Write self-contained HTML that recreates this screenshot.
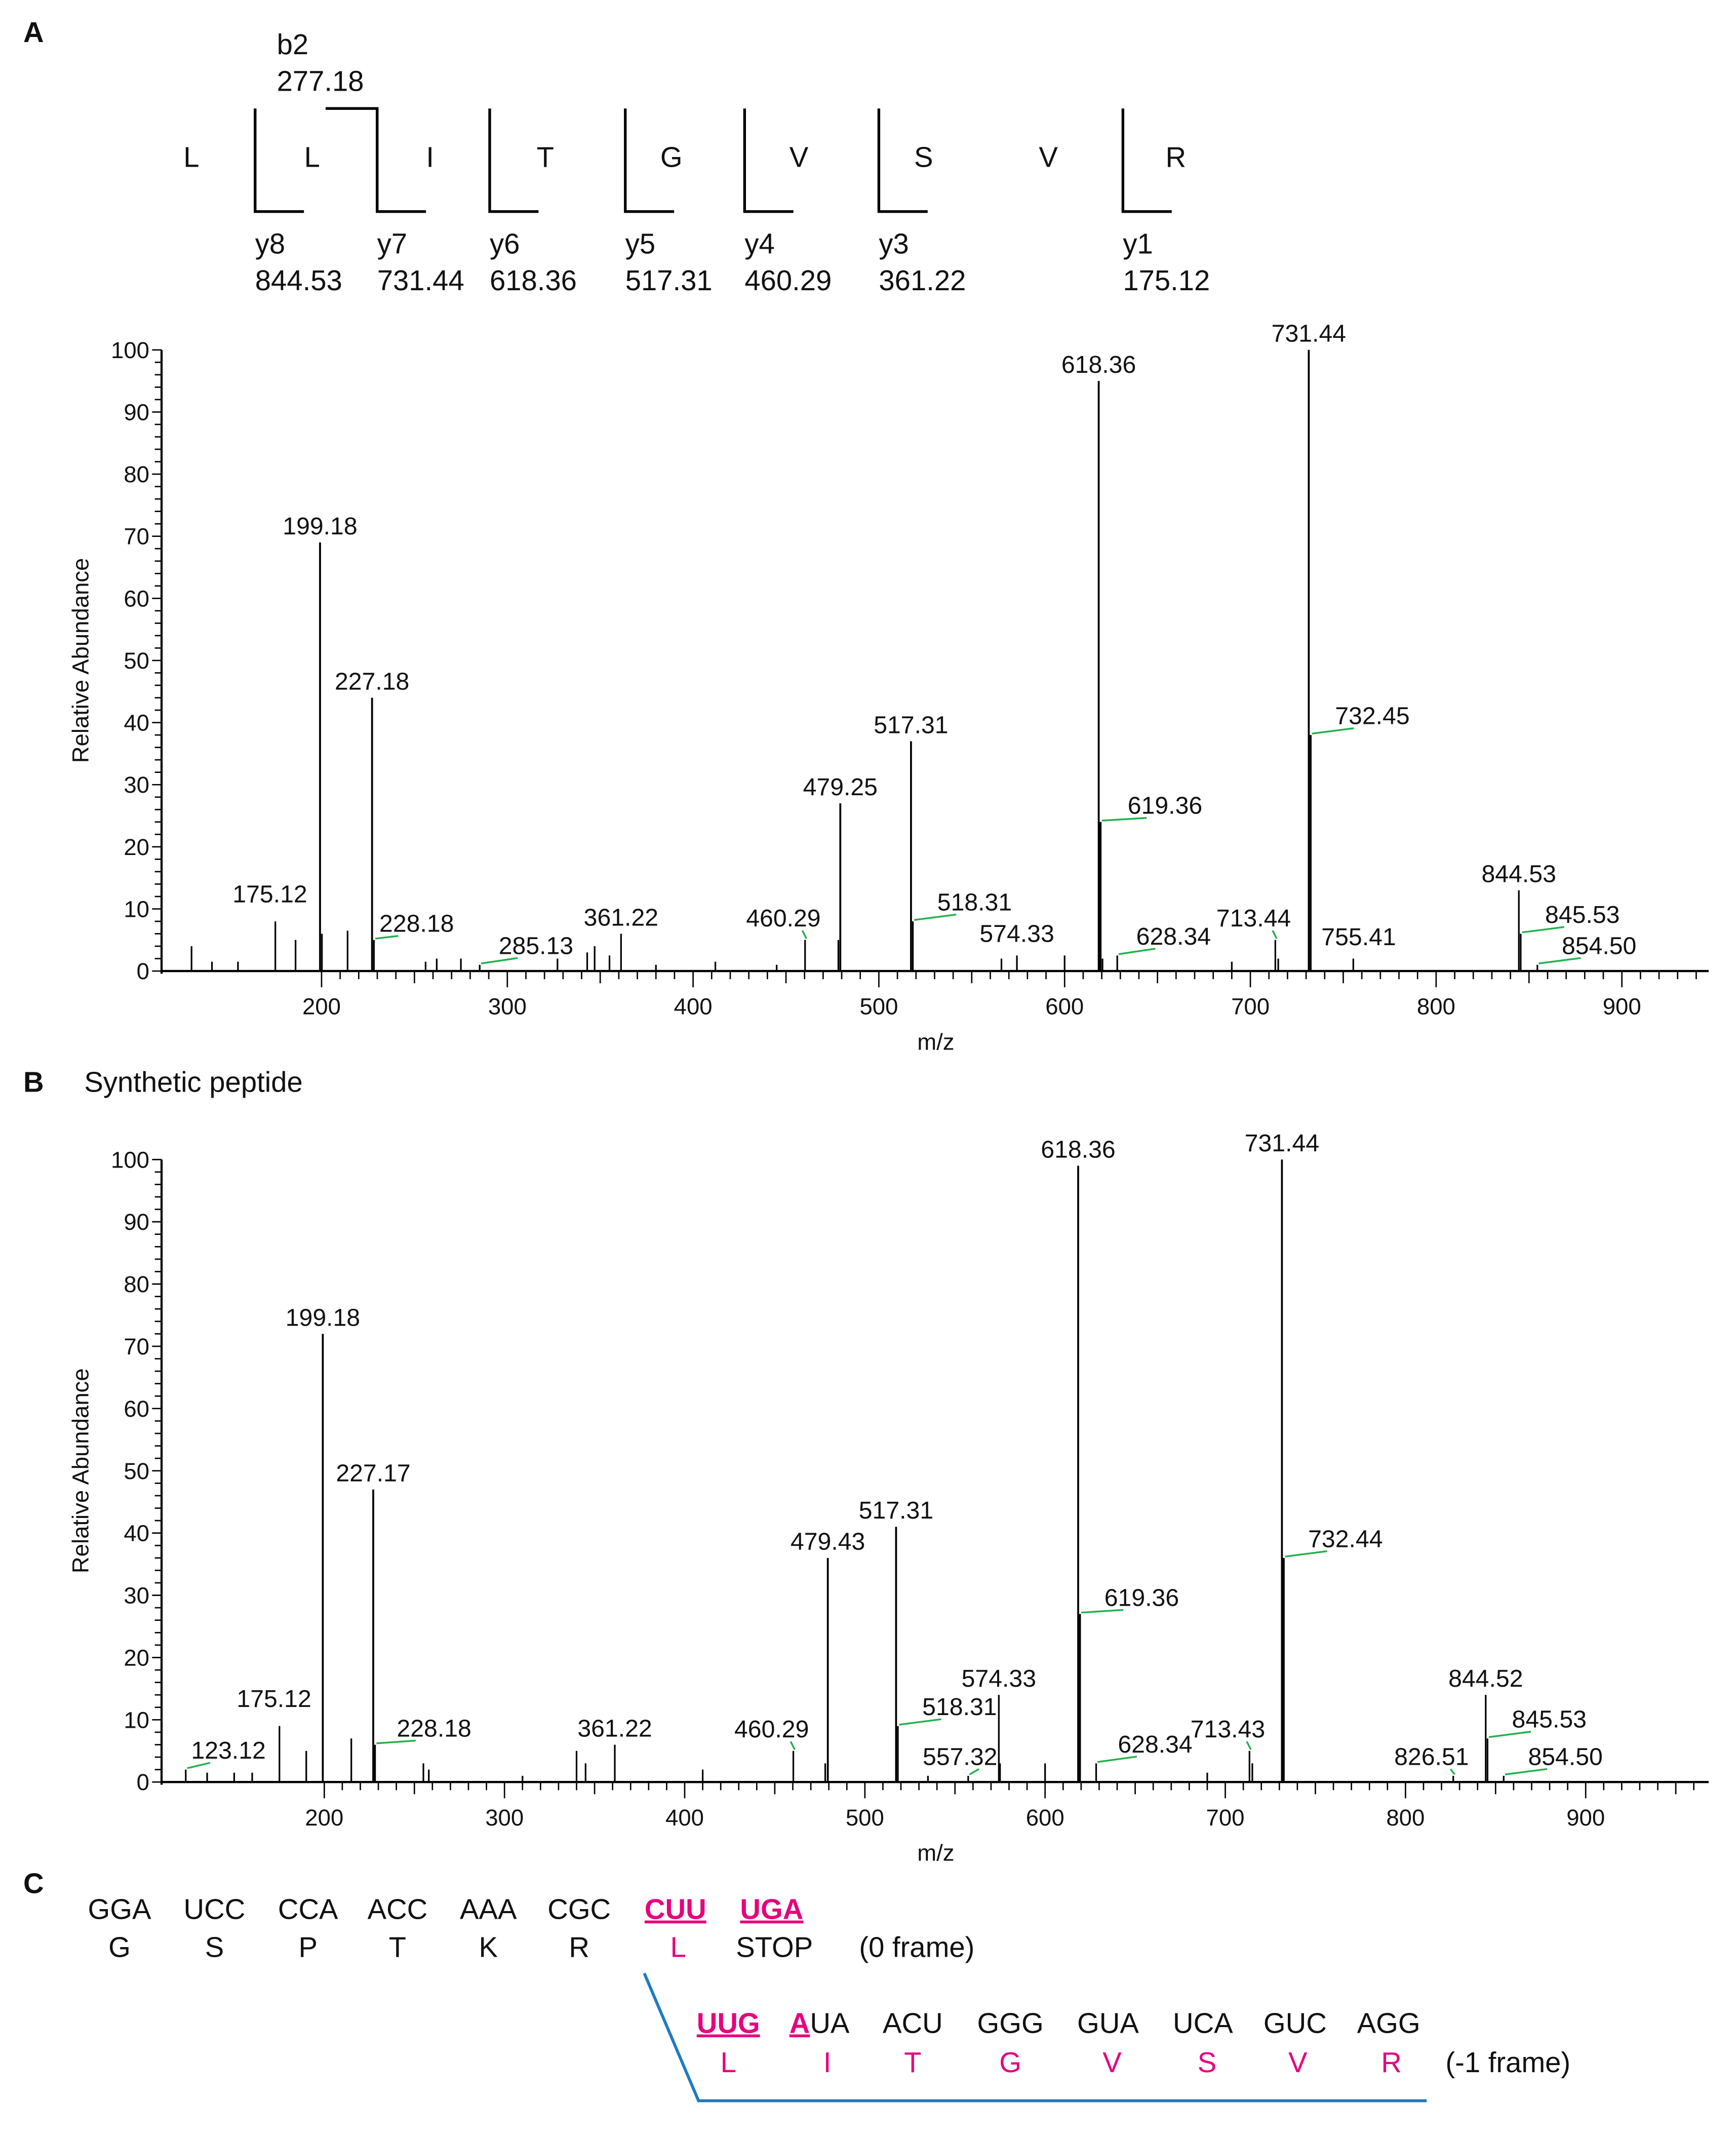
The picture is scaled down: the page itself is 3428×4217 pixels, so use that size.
<!DOCTYPE html>
<html><head><meta charset="utf-8"><style>
html,body{margin:0;padding:0;background:#fff;}
svg{display:block;font-family:"Liberation Sans",Arial,sans-serif;}
</style></head><body>
<svg id="fig" width="3428" height="4217" viewBox="0 0 1280 1575" xmlns="http://www.w3.org/2000/svg">
<g id="seq" font-size="21" fill="#111" stroke="none"></g>
<g id="panelA"></g>
<g id="panelB"></g>
<g id="panelC" font-size="21"></g>
</svg>
<script>
// ---- Panel A data ----
const aMz  = [130,141,155,175.12,186,199.18,200.2,214,227.18,228.18,256,262,275,285.13,327,343,347,355,361.22,380,412,445,460.29,478.2,479.25,517.31,518.31,566,574.33,600,618.36,619.36,620.4,628.34,690,713.44,715,731.44,732.45,755.41,844.53,845.53,854.50];
const aInt = [4,1.5,1.5,8,5,69,6,6.5,44,5,1.5,2,2,1,2,3,4,2.5,6,1,1.5,1,5,5,27,37,8,2,2.5,2.5,95,24,2,2.5,1.5,5,2,100,38,2,13,6,1];
const aLabels = ["","","","175.12","","199.18","","","227.18","228.18","","","","285.13","","","","","361.22","","","","460.29","","479.25","517.31","518.31","","574.33","","618.36","619.36","","628.34","","713.44","","731.44","732.45","755.41","844.53","845.53","854.50"];
// ---- Panel B data ----
const bMz  = [123.12,135,150,160,175.12,190,199.18,215,227.17,228.18,255,258,310,340,345,361.22,410,460.29,478,479.43,517.31,518.31,535,557.32,574.33,575,600,618.36,619.36,628.34,690,713.43,715,731.44,732.44,826.51,844.52,845.53,854.50];
const bInt = [2,1.5,1.5,1.5,9,5,72,7,47,6,3,2,1,5,3,6,2,5,3,36,41,9,1,1,14,3,3,99,27,3,1.5,5,3,100,36,1,14,7,1];
const bLabels = ["123.12","","","","175.12","","199.18","","227.17","228.18","","","","","","361.22","","460.29","","479.43","517.31","518.31","","557.32","574.33","","","618.36","619.36","628.34","","713.43","","731.44","732.44","826.51","844.52","845.53","854.50"];
const yTicks = [0,10,20,30,40,50,60,70,80,90,100];
const xTicks = [200,300,400,500,600,700,800,900];

const NS="http://www.w3.org/2000/svg";
function mk(parent,tag,attrs,text){const e=document.createElementNS(NS,tag);for(const k in attrs)e.setAttribute(k,attrs[k]);if(text!==undefined)e.textContent=text;parent.appendChild(e);return e;}

// label offsets (style only): [dx, dy] from peak top to label anchor; leader drawn if offset
const offA={"175.12":[-4,-14],"228.18":[10,-6],"285.13":[20,-8],"460.29":[-16,-10],"518.31":[24,-8],"574.33":[0,-10],"628.34":[20,-8],"713.44":[-16,-10],"732.45":[24,-8],"755.41":[4,-10],"845.53":[24,-8],"854.50":[24,-8],"619.36":[26,-6]};
const offB={"123.12":[10,-8],"175.12":[-4,-14],"228.18":[22,-6],"460.29":[-16,-10],"518.31":[24,-8],"557.32":[-6,-8],"628.34":[22,-8],"713.43":[-16,-10],"732.44":[24,-8],"826.51":[-16,-8],"845.53":[24,-8],"854.50":[24,-8],"619.36":[24,-6]};

function drawPanel(g,cfg,mz,inten,labels,off){
  const X=v=>cfg.x0+(v-cfg.m0)*cfg.kx, Y=v=>cfg.y0-v*cfg.ky;
  const ax=mk(g,'g',{stroke:'#000','stroke-width':1.6,fill:'none'});
  
  
  mk(ax,'line',{x1:119,y1:Y(100),x2:119,y2:Y(0)+2});
  mk(ax,'line',{x1:119,y1:Y(0),x2:1260,y2:Y(0)});
  for(let v=0;v<=100;v+=2){const L=(v%10===0)?7:5;mk(ax,'line',{x1:119-L,y1:Y(v),x2:119,y2:Y(v),'stroke-width':1});}
  for(let v=Math.ceil(cfg.m0/10)*10;X(v)<=1260;v+=10){const L=(v%100===0)?12:(v%50===0?9:6);mk(ax,'line',{x1:X(v),y1:Y(0),x2:X(v),y2:Y(0)+L,'stroke-width':1});}
  const tg=mk(g,'g',{'font-size':17,fill:'#111'});
  
  
  yTicks.forEach(v=>mk(tg,'text',{x:110,y:Y(v)+6,'text-anchor':'end'},v));
  xTicks.forEach(v=>mk(tg,'text',{x:X(v),y:Y(0)+32,'text-anchor':'middle'},v));
  const xt=mk(g,'text',{x:690,y:Y(0)+58,'text-anchor':'middle','font-size':17,fill:'#111'},'m/z');
  
  
  const yc=(Y(0)+Y(100))/2;
  const yt=mk(g,'text',{x:65,y:yc,'text-anchor':'middle','font-size':17,fill:'#111',transform:`rotate(-90 65 ${yc})`},'Relative Abundance');
  
  
  const pk=mk(g,'g',{stroke:'#000'});
  
  
  mz.forEach((m,i)=>{
    const l=mk(pk,'line',{x1:X(m),y1:Y(0),x2:X(m),y2:Y(inten[i]),'stroke-width':inten[i]>20?1.4:1.2});
    
    
    if(labels[i]){
      const o=off[labels[i]]||[0,-6];
      const px=X(m),py=Y(inten[i]);
      const tx=px+o[0],ty=py+o[1];
      if(o[0]!==0 && Math.abs(o[0])>5){
        const ln=mk(g,'line',{x1:px+1,y1:py-1,x2:tx+(o[0]>0?8:14),y2:ty+3,stroke:'#22b14c','stroke-width':1.3});
        
        
      }
      const t=mk(g,'text',{x:o[0]>5?tx-6:tx,y:ty,'text-anchor':o[0]>5?'start':'middle','font-size':18,fill:'#111'},labels[i]);
      
      
    }
  });
}
drawPanel(document.getElementById('panelA'),{x0:237,m0:200,kx:1.37,y0:716,ky:4.58},aMz,aInt,aLabels,offA);
drawPanel(document.getElementById('panelB'),{x0:239,m0:200,kx:1.329,y0:1314,ky:4.59},bMz,bInt,bLabels,offB);

// ---- fragment diagram ----
const seq=document.getElementById('seq');
const letters=[["L",141],["L",230],["I",317],["T",402],["G",495],["V",589],["S",681],["V",773],["R",867]];
letters.forEach(a=>{const t=mk(seq,'text',{x:a[1],y:123,'text-anchor':'middle'},a[0]);});
const br=[[188,"y8","844.53"],[278,"y7","731.44"],[361,"y6","618.36"],[461,"y5","517.31"],[549,"y4","460.29"],[648,"y3","361.22"],[828,"y1","175.12"]];
br.forEach(b=>{
  const p=mk(seq,'polyline',{points:`${b[0]},80 ${b[0]},156 ${b[0]+36},156`,fill:'none',stroke:'#000','stroke-width':2});
  
  
  mk(seq,'text',{x:b[0],y:187},b[1]);
  mk(seq,'text',{x:b[0],y:214},b[2]);
});
mk(seq,'polyline',{points:'240,80 278,80 278,156',fill:'none',stroke:'#000','stroke-width':2});
mk(seq,'text',{x:204,y:40},'b2');
mk(seq,'text',{x:204,y:67},'277.18');

// panel letters
const fig=document.getElementById('fig');
mk(fig,'text',{x:17,y:31,'font-size':21,'font-weight':'bold',fill:'#111'},'A');
mk(fig,'text',{x:17,y:805,'font-size':21,'font-weight':'bold',fill:'#111'},'B');
mk(fig,'text',{x:62,y:805,'font-size':21,fill:'#111'},'Synthetic peptide');
mk(fig,'text',{x:17,y:1396,'font-size':21,'font-weight':'bold',fill:'#111'},'C');

// ---- panel C ----
const C=document.getElementById('panelC');
const PK='#e6007e';
function ct(x,y,s,pink,bold,ul){const t=mk(C,'text',{x:x,y:y,'text-anchor':'middle',fill:pink?PK:'#111','font-weight':bold?'bold':'normal','text-decoration':ul?'underline':'none'},s);return t;}
[["GGA",88],["UCC",158],["CCA",227],["ACC",293],["AAA",360],["CGC",427]].forEach(c=>ct(c[1],1415,c[0]));
ct(498,1415,"CUU",1,1,1);ct(569,1415,"UGA",1,1,1);
[["G",88],["S",158],["P",227],["T",293],["K",360],["R",427]].forEach(c=>ct(c[1],1443,c[0]));
ct(500,1443,"L",1);ct(571,1443,"STOP");ct(676,1443,"(0 frame)");
ct(537,1499,"UUG",1,1,1);
const a=mk(C,'text',{x:582,y:1499,fill:'#111'});
const s1=mk(a,'tspan',{fill:PK,'font-weight':'bold','text-decoration':'underline'},'A');mk(a,'tspan',{},'UA');
[["ACU",673],["GGG",745],["GUA",817],["UCA",887],["GUC",955],["AGG",1024]].forEach(c=>ct(c[1],1499,c[0]));
[["L",537],["I",610],["T",673],["G",745],["V",820],["S",890],["V",957],["R",1026]].forEach(c=>ct(c[1],1528,c[0],1));
ct(1112,1528,"(-1 frame)");
const bl=mk(C,'polyline',{points:'475,1455 515,1549 1052,1549',fill:'none',stroke:'#1f7bc4','stroke-width':2.2});


</script>
</body></html>
